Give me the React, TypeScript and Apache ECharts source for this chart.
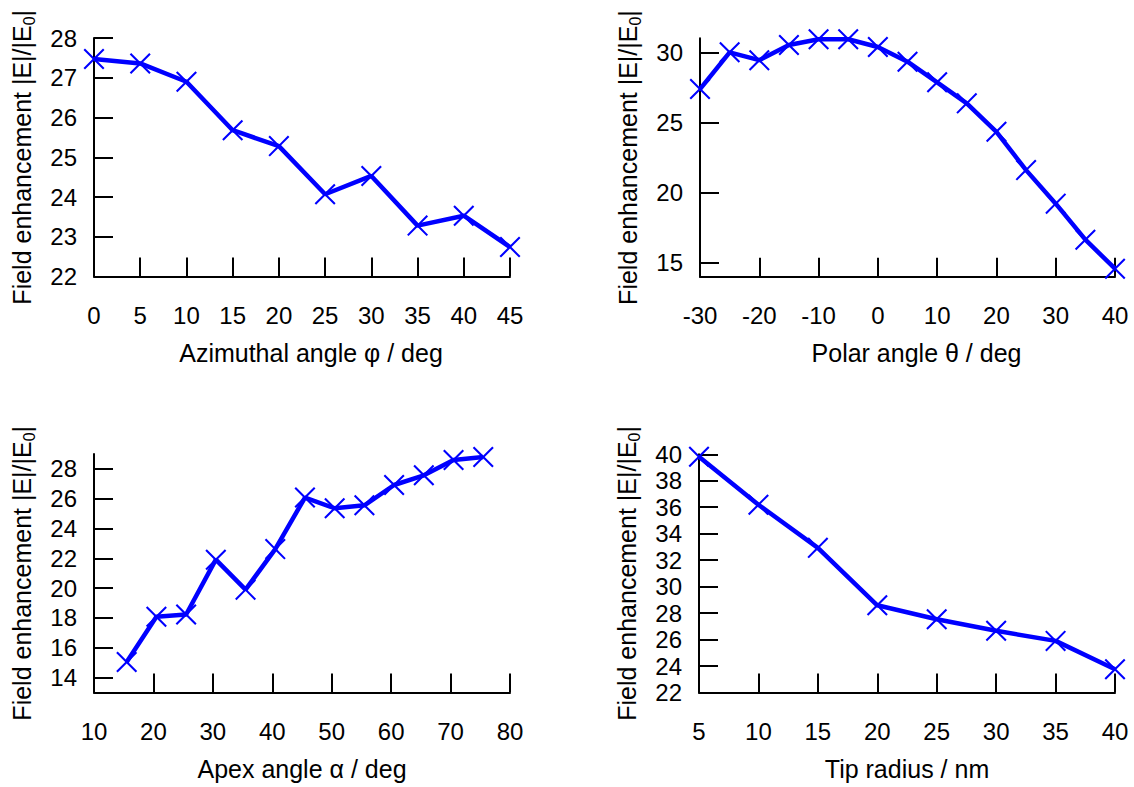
import React, { useEffect, useRef } from "react";
import * as echarts from "echarts";

// Panel 1: azimuthal angle
const phiDeg = [0, 5, 10, 15, 20, 25, 30, 35, 40, 45];
const phiEnh = [27.47, 27.36, 26.9, 25.68, 25.28, 24.07, 24.53, 23.28, 23.53, 22.74];

// Panel 2: polar angle
const thetaDeg = [-30, -25, -20, -15, -10, -5, 0, 5, 10, 15, 20, 25, 30, 35, 40];
const thetaEnh = [27.38, 30.0, 29.44, 30.52, 30.93, 30.93, 30.38, 29.33, 27.86, 26.36, 24.33, 21.6, 19.21, 16.64, 14.57];

// Panel 3: apex angle
const apexDeg = [15.5, 20.5, 25.5, 30.5, 35.5, 40.5, 45.5, 50.5, 55.5, 60.5, 65.5, 70.5, 75.5];
const apexEnh = [15.05, 18.08, 18.23, 21.91, 19.9, 22.62, 26.08, 25.36, 25.56, 26.92, 27.57, 28.6, 28.8];

// Panel 4: tip radius
const radiusNm = [5, 10, 15, 20, 25, 30, 35, 40];
const radiusEnh = [39.82, 36.19, 32.93, 28.59, 27.54, 26.66, 25.9, 23.75];

// Tick values
const thetaYTicks = [15, 20, 25, 30];
const apexYTicks = [14, 16, 18, 20, 22, 24, 26, 28];

const xNames = ["Azimuthal angle φ / deg", "Polar angle θ / deg", "Apex angle α / deg", "Tip radius / nm"];
const yName = "Field enhancement |E|/|E{sub|0}|";

const FONT = "'Liberation Sans', Arial, sans-serif";
const BLUE = "#0000ff";
const X_SYMBOL = "path://M7,0 L50,43 L93,0 L100,7 L57,50 L100,93 L93,100 L50,57 L7,100 L0,93 L43,50 L0,7 Z";

const grids = [
  { left: 94, top: 38, width: 416, height: 238.5 },
  { left: 700, top: 38.3, width: 415, height: 238.4 },
  { left: 94, top: 454, width: 416, height: 238.5 },
  { left: 699, top: 454.3, width: 416, height: 238.2 },
];

function App() {
  const ref = useRef<HTMLDivElement>(null);

  useEffect(() => {
    if (!ref.current) return;
    const chart = echarts.init(ref.current, null, { renderer: "svg" });

    const axisLine = { show: true, onZero: false, lineStyle: { color: "#000", width: 2 } };
    const axisTick = { show: true, inside: true, length: 19, lineStyle: { color: "#000", width: 2 } };
    const labelStyle = { color: "#000", fontSize: 24, fontFamily: FONT };

    const xAxisBase = (i: number, min: number, max: number, interval: number, padLeft: number) => ({
      type: "value",
      gridIndex: i,
      min,
      max,
      interval,
      name: xNames[i],
      nameLocation: "middle",
      nameGap: 64,
      nameTextStyle: { color: "#000", fontSize: 25, fontFamily: FONT, padding: [0, 0, 0, padLeft] },
      axisLine,
      axisTick,
      splitLine: { show: false },
      axisLabel: { ...labelStyle, margin: 27 },
    });

    const yAxisBase = (i: number, min: number, max: number, interval: number | undefined, custom?: number[]) => {
      const ax: any = {
        type: "value",
        gridIndex: i,
        min,
        max,
        name: yName,
        nameLocation: "middle",
        nameGap: 57,
        nameTextStyle: {
          color: "#000",
          fontSize: 25,
          fontFamily: FONT,
          lineHeight: 30,
          rich: {
            sub: { fontSize: 16, fontFamily: FONT, color: "#000", lineHeight: 16, verticalAlign: "bottom" },
          },
        },
        axisLine,
        axisTick: { ...axisTick },
        splitLine: { show: false },
        axisLabel: { ...labelStyle, margin: 17 },
      };
      if (interval !== undefined) ax.interval = interval;
      if (custom) {
        ax.axisTick.customValues = custom;
        ax.axisLabel.customValues = custom;
      }
      return ax;
    };

    const mk = (xs: number[], ys: number[], i: number) => ({
      type: "line",
      xAxisIndex: i,
      yAxisIndex: i,
      data: xs.map((x, k) => [x, ys[k]]),
      symbol: X_SYMBOL,
      symbolSize: 21,
      showSymbol: true,
      clip: false,
      silent: true,
      lineStyle: { color: BLUE, width: 4.5 },
      itemStyle: { color: BLUE },
    });

    chart.setOption({
      animation: false,
      backgroundColor: "#fff",
      grid: grids,
      xAxis: [
        xAxisBase(0, 0, 45, 5, 18),
        xAxisBase(1, -30, 40, 10, 18),
        xAxisBase(2, 10, 80, 10, 0),
        xAxisBase(3, 5, 40, 5, 0),
      ],
      yAxis: [
        yAxisBase(0, 22, 28, 1),
        yAxisBase(1, 14, 31, undefined, thetaYTicks),
        yAxisBase(2, 13, 29, undefined, apexYTicks),
        yAxisBase(3, 22, 40, 2),
      ],
      series: [
        mk(phiDeg, phiEnh, 0),
        mk(thetaDeg, thetaEnh, 1),
        mk(apexDeg, apexEnh, 2),
        mk(radiusNm, radiusEnh, 3),
      ],
    });

    return () => chart.dispose();
  }, []);

  return <div ref={ref} style={{ position: "fixed", left: 0, top: 0, width: 1134, height: 787 }} />;
}

export default App;
